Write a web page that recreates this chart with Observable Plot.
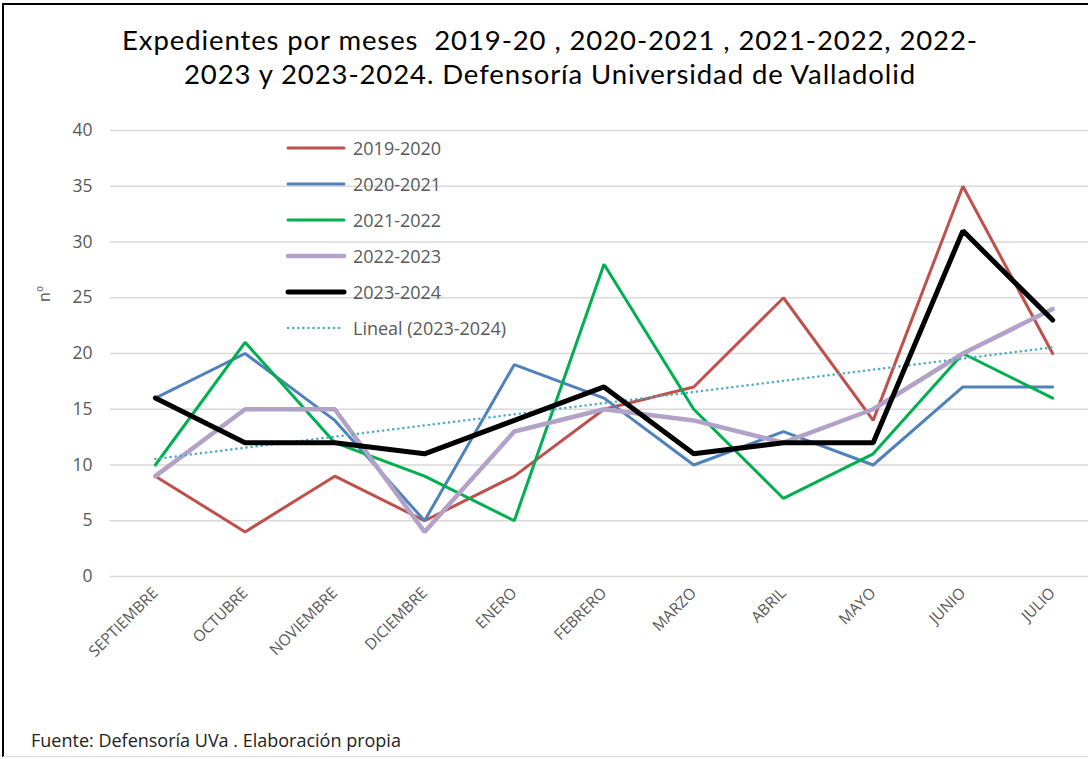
<!DOCTYPE html>
<html>
<head>
<meta charset="utf-8">
<script src="https://cdn.jsdelivr.net/npm/d3@7"></script>
<script src="https://cdn.jsdelivr.net/npm/@observablehq/plot@0.6"></script>
<style>
  html, body { margin: 0; padding: 0; background: #fff; }
  body { width: 1088px; height: 759px; overflow: hidden; position: relative; font-family: "Open Sans", "DejaVu Sans", sans-serif; }
  #frame { position: absolute; left: 2px; top: 3px; width: 1100px; height: 754px; border-left: 2.5px solid #000; border-top: 2.5px solid #000; border-bottom: 1px solid #ddd; box-sizing: border-box; }
  #chart { position: absolute; left: 0; top: 0; width: 1097px; }
  #chart svg { max-width: none; }
  #title { position: absolute; left: 0; width: 1100px; top: 23px; text-align: center; font-family: Lato, "Open Sans", sans-serif; font-size: 27.5px; line-height: 34px; color: #000; letter-spacing: 0.9px; }
  #ylab { position: absolute; left: 36px; top: 283px; font-size: 16px; color: #595959; transform: rotate(-90deg); transform-origin: center; }
  #legend { position: absolute; left: 285px; top: 130px; }
  .row { height: 36px; display: flex; align-items: center; font-size: 18px; color: #595959; }
  .sw { width: 62px; margin-right: 6px; }
  #foot { position: absolute; left: 31px; top: 728px; font-size: 18px; color: #222; }
</style>
</head>
<body>
<div id="frame"></div>
<div id="chart"></div>
<div id="title">Expedientes por meses&nbsp; 2019-20 , 2020-2021 , 2021-2022, 2022-<br>2023 y 2023-2024. Defensoría Universidad de Valladolid</div>
<div id="ylab">nº</div>
<div id="legend"></div>
<div id="foot">Fuente: Defensoría UVa . Elaboración propia</div>
<script>
const months = ["SEPTIEMBRE","OCTUBRE","NOVIEMBRE","DICIEMBRE","ENERO","FEBRERO","MARZO","ABRIL","MAYO","JUNIO","JULIO"];
const seriesNames = ["2019-2020","2020-2021","2021-2022","2022-2023","2023-2024"];
const s2019 = [9, 4, 9, 5, 9, 15, 17, 25, 14, 35, 20];
const s2020 = [16, 20, 14, 5, 19, 16, 10, 13, 10, 17, 17];
const s2021 = [10, 21, 12, 9, 5, 28, 15, 7, 11, 20, 16];
const s2022 = [9, 15, 15, 4, 13, 15, 14, 12, 15, 20, 24];
const s2023 = [16, 12, 12, 11, 14, 17, 11, 12, 12, 31, 23];
const yTicks = [0, 5, 10, 15, 20, 25, 30, 35, 40];
const trendName = "Lineal (2023-2024)";

const colors = ["#C0504D", "#4F81BD", "#00B050", "#B3A2C7", "#000000"];
const widths = [3, 3, 3, 4.5, 5];
const trendColor = "#4BACC6";

const allSeries = [s2019, s2020, s2021, s2022, s2023];
const rows = [];
allSeries.forEach((arr, k) => arr.forEach((v, i) => rows.push({serie: seriesNames[k], i, v})));

const lineMarks = allSeries.map((arr, k) =>
  Plot.line(rows.filter(d => d.serie === seriesNames[k]), {
    x: "i", y: "v", stroke: colors[k], strokeWidth: widths[k],
    strokeLinejoin: "miter", strokeLinecap: "round"
  })
);

const plot = Plot.plot({
  width: 1097,
  height: 700,
  marginLeft: 110,
  marginRight: 0,
  marginTop: 130,
  marginBottom: 124,
  style: { background: "transparent", fontFamily: "'Open Sans', sans-serif" },
  x: { domain: [-0.5, 10.5], label: null },
  y: { domain: [0, 40], label: null },
  marks: [
    Plot.gridY(yTicks, { stroke: "#d9d9d9", strokeOpacity: 1, strokeWidth: 1.5 }),
    Plot.axisY({ ticks: yTicks, tickSize: 0, tickPadding: 18, fontSize: 17.5, fill: "#595959", label: null }),
    Plot.axisX({ ticks: d3.range(months.length), tickFormat: i => months[i], tickSize: 0, tickRotate: -45, tickPadding: 14, fontSize: 15.5, fill: "#595959", label: null }),
    ...lineMarks.slice(0, 4),
    Plot.linearRegressionY(rows.filter(d => d.serie === "2023-2024"), {
      x: "i", y: "v", ci: 0, stroke: trendColor, strokeWidth: 2.5,
      strokeDasharray: "0.1 5", strokeLinecap: "round"
    }),
    lineMarks[4]
  ]
});
document.getElementById("chart").appendChild(plot);

// Legend
const legend = document.getElementById("legend");
seriesNames.forEach((n, k) => {
  const r = document.createElement("div"); r.className = "row";
  r.innerHTML = `<svg class="sw" width="62" height="8"><line x1="3" x2="59" y1="4" y2="4" stroke="${colors[k]}" stroke-width="${widths[k]}" stroke-linecap="round"/></svg><span>${n}</span>`;
  legend.appendChild(r);
});
const tr = document.createElement("div"); tr.className = "row";
tr.innerHTML = `<svg class="sw" width="62" height="8"><line x1="3" x2="59" y1="4" y2="4" stroke="${trendColor}" stroke-width="2.5" stroke-dasharray="0.1 5" stroke-linecap="round"/></svg><span>${trendName}</span>`;
legend.appendChild(tr);
</script>
</body>
</html>
